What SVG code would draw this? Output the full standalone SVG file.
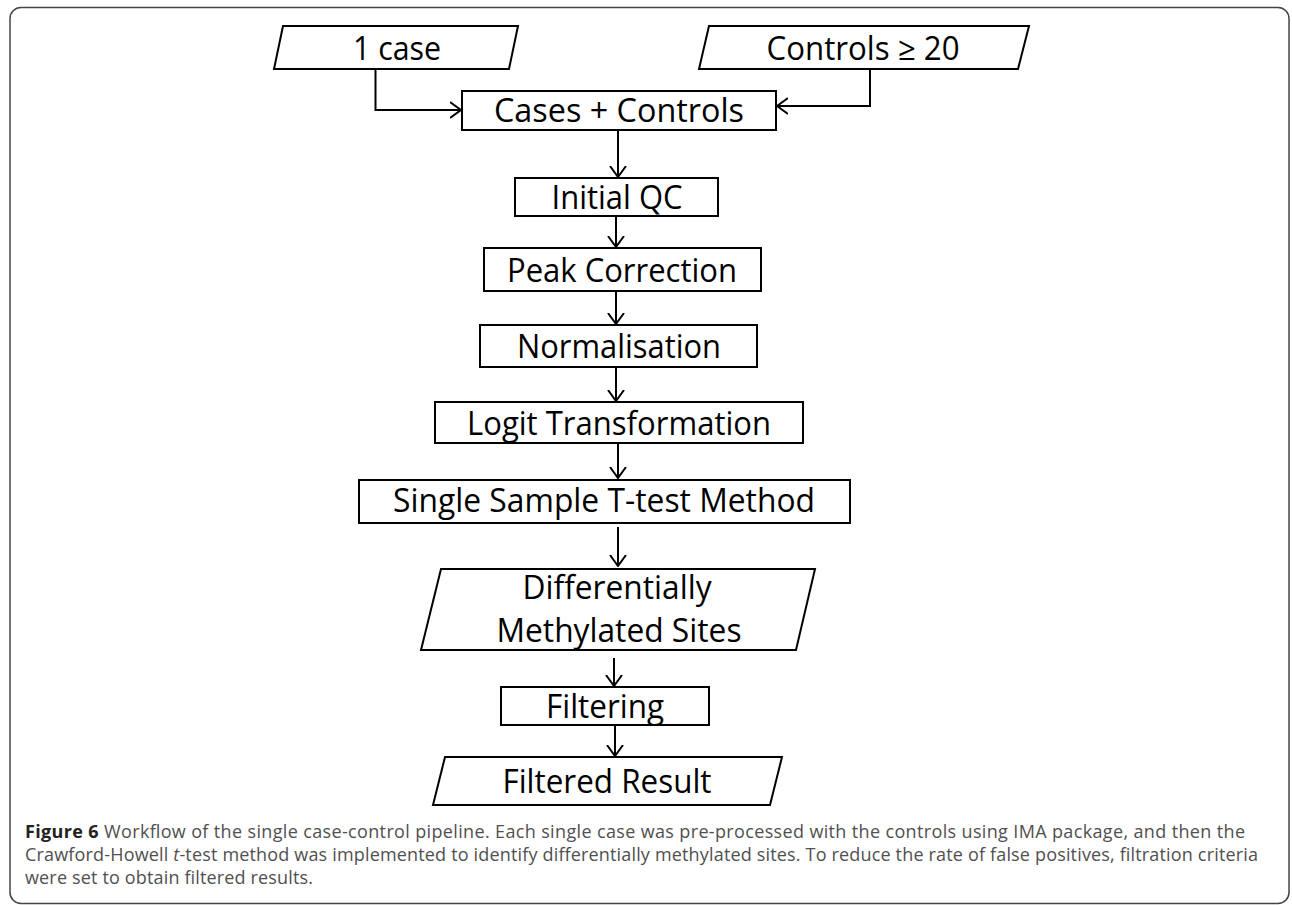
<svg xmlns="http://www.w3.org/2000/svg" width="1292" height="905" viewBox="0 0 1292 905">
<style>
.box{fill:#fff;stroke:#000;stroke-width:2}
.lbl{font-family:"Open Sans","Liberation Sans",Arial,sans-serif;font-size:32px;fill:#000;text-anchor:middle}
.conn{fill:none;stroke:#000;stroke-width:2}
.cap{font-family:"Open Sans","Liberation Sans",sans-serif;font-size:18px;fill:#505050}
.capb{font-weight:bold;fill:#222}
</style>
<defs>
<marker id="arr" markerUnits="userSpaceOnUse" viewBox="0 0 12 18" refX="11" refY="9" markerWidth="12" markerHeight="18" orient="auto">
<path d="M0,1 L11,9 L0,17" fill="none" stroke="#000" stroke-width="2"/>
</marker>
</defs>
<rect x="10" y="7.5" width="1279" height="896" rx="11" fill="#fff" stroke="#444" stroke-width="1.5"/>
<g id="n_case">
<polygon class="box" points="283,26 518,26 509,69 274,69"/>
<text class="lbl" x="397" y="60" textLength="88" lengthAdjust="spacingAndGlyphs">1 case</text>
</g>
<g id="n_controls">
<polygon class="box" points="709,26 1029,26 1018,69 699,69"/>
<text class="lbl" x="863" y="60" textLength="193" lengthAdjust="spacingAndGlyphs">Controls ≥ 20</text>
</g>
<g id="n_cases_controls">
<rect class="box" x="462" y="91" width="314" height="39"/>
<text class="lbl" x="619" y="122" textLength="250" lengthAdjust="spacingAndGlyphs">Cases + Controls</text>
</g>
<g id="n_qc">
<rect class="box" x="515" y="178" width="203" height="38"/>
<text class="lbl" x="617" y="209" textLength="131" lengthAdjust="spacingAndGlyphs">Initial QC</text>
</g>
<g id="n_peak">
<rect class="box" x="484" y="248" width="277" height="43"/>
<text class="lbl" x="622" y="282" textLength="230" lengthAdjust="spacingAndGlyphs">Peak Correction</text>
</g>
<g id="n_norm">
<rect class="box" x="480" y="325" width="277" height="42"/>
<text class="lbl" x="619" y="358" textLength="204" lengthAdjust="spacingAndGlyphs">Normalisation</text>
</g>
<g id="n_logit">
<rect class="box" x="435" y="402" width="368" height="41"/>
<text class="lbl" x="619" y="435" textLength="304" lengthAdjust="spacingAndGlyphs">Logit Transformation</text>
</g>
<g id="n_ttest">
<rect class="box" x="359" y="480" width="491" height="43"/>
<text class="lbl" x="604" y="512" textLength="422" lengthAdjust="spacingAndGlyphs">Single Sample T-test Method</text>
</g>
<g id="n_dms">
<polygon class="box" points="441,569 815,569 796,650 421,650"/>
<text class="lbl" x="617" y="599" textLength="189" lengthAdjust="spacingAndGlyphs">Differentially</text>
<text class="lbl" x="619" y="642" textLength="245" lengthAdjust="spacingAndGlyphs">Methylated Sites</text>
</g>
<g id="n_filter">
<rect class="box" x="501" y="687" width="208" height="38"/>
<text class="lbl" x="605" y="718" textLength="118" lengthAdjust="spacingAndGlyphs">Filtering</text>
</g>
<g id="n_result">
<polygon class="box" points="445,757 782,757 770,805 433,805"/>
<text class="lbl" x="607" y="793" textLength="209" lengthAdjust="spacingAndGlyphs">Filtered Result</text>
</g>
<g id="connectors">
<path class="conn" d="M375.5,69 V110 H461" marker-end="url(#arr)"/>
<path class="conn" d="M870,69 V106 H777" marker-end="url(#arr)"/>
<path class="conn" d="M618,130 V177" marker-end="url(#arr)"/>
<path class="conn" d="M616,216 V247" marker-end="url(#arr)"/>
<path class="conn" d="M616,291 V324" marker-end="url(#arr)"/>
<path class="conn" d="M616,367 V401" marker-end="url(#arr)"/>
<path class="conn" d="M618,443 V478" marker-end="url(#arr)"/>
<path class="conn" d="M618,527 V566" marker-end="url(#arr)"/>
<path class="conn" d="M614,658 V686" marker-end="url(#arr)"/>
<path class="conn" d="M615,725 V756" marker-end="url(#arr)"/>
</g>
<g id="caption">
<text class="cap" x="25" y="838" textLength="1220" lengthAdjust="spacing"><tspan class="capb">Figure 6</tspan> Workflow of the single case-control pipeline. Each single case was pre-processed with the controls using IMA package, and then the</text>
<text class="cap" x="25" y="861" textLength="1233" lengthAdjust="spacing">Crawford-Howell <tspan font-style="italic">t</tspan>-test method was implemented to identify differentially methylated sites. To reduce the rate of false positives, filtration criteria</text>
<text class="cap" x="25" y="884" textLength="288" lengthAdjust="spacing">were set to obtain filtered results.</text>
</g>
</svg>
